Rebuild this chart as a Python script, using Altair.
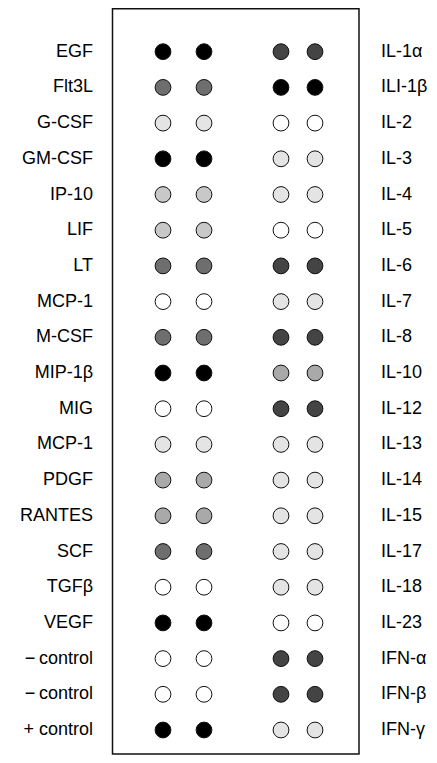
import altair as alt
import pandas as pd

# ---- data ----
left_labels = ["EGF", "Flt3L", "G-CSF", "GM-CSF", "IP-10", "LIF", "LT", "MCP-1",
               "M-CSF", "MIP-1β", "MIG", "MCP-1", "PDGF", "RANTES", "SCF", "TGFβ",
               "VEGF", "−\u2009control", "−\u2009control", "+ control"]
right_labels = ["IL-1α", "ILI-1β", "IL-2", "IL-3", "IL-4", "IL-5", "IL-6", "IL-7",
                "IL-8", "IL-10", "IL-12", "IL-13", "IL-14", "IL-15", "IL-17", "IL-18",
                "IL-23", "IFN-α", "IFN-β", "IFN-γ"]
# intensity level 0 (white) .. 6 (black), same for both replicate spots
left_levels = [6, 4, 1, 6, 2, 2, 4, 0, 4, 6, 0, 1, 3, 3, 4, 0, 6, 0, 0, 6]
right_levels = [5, 6, 0, 1, 1, 0, 5, 1, 5, 3, 5, 1, 1, 1, 1, 1, 0, 5, 5, 1]
level_colors = ["#ffffff", "#e4e4e4", "#c8c8c8", "#a9a9a9", "#6e6e6e", "#444444", "#000000"]

# ---- layout (pixels inside the chart) ----
W, H = 421, 747
spot_x = [155, 196, 273, 307]      # two replicate spots per panel side
left_text_x = 85
right_text_x = 373

rows = list(range(len(left_labels)))
spots = []
for i in rows:
    for j, sx in enumerate(spot_x):
        lvl = left_levels[i] if j < 2 else right_levels[i]
        spots.append({"row": i, "x": sx, "level": lvl})
spots_df = pd.DataFrame(spots)
labels_df = pd.DataFrame({"row": rows, "left": left_labels, "right": right_labels,
                          "lx": [left_text_x] * len(rows), "rx": [right_text_x] * len(rows)})

xs = alt.Scale(domain=[0, W], range=[0, W], nice=False, zero=False)
ys = alt.Scale(domain=[-1.224, 19.70], reverse=True, nice=False, zero=False)

box = alt.Chart(pd.DataFrame({"a": [0]})).mark_rect(
    fill="white", stroke="#111111", strokeWidth=1.5
).encode(x=alt.value(104.5), x2=alt.value(351), y=alt.value(0.75), y2=alt.value(746))

dots = alt.Chart(spots_df).mark_point(
    shape="circle", filled=True, size=250, stroke="#111111", strokeWidth=1, opacity=1
).encode(
    x=alt.X("x:Q", scale=xs, axis=None),
    y=alt.Y("row:Q", scale=ys, axis=None),
    fill=alt.Fill("level:O", scale=alt.Scale(domain=list(range(7)), range=level_colors), legend=None),
)

font = "Liberation Sans"
ltext = alt.Chart(labels_df).mark_text(
    align="right", baseline="middle", font=font, fontSize=18, color="#000000"
).encode(x=alt.X("lx:Q", scale=xs, axis=None), y=alt.Y("row:Q", scale=ys, axis=None), text="left:N")

rtext = alt.Chart(labels_df).mark_text(
    align="left", baseline="middle", font=font, fontSize=18, color="#000000"
).encode(x=alt.X("rx:Q", scale=xs, axis=None), y=alt.Y("row:Q", scale=ys, axis=None), text="right:N")

chart = alt.layer(box, dots, ltext, rtext).properties(
    width=W, height=H, padding=0, autosize=alt.AutoSizeParams(type="none")
).configure_view(stroke=None)

chart.save("out.html", embed_options={"renderer": "svg", "actions": False})
